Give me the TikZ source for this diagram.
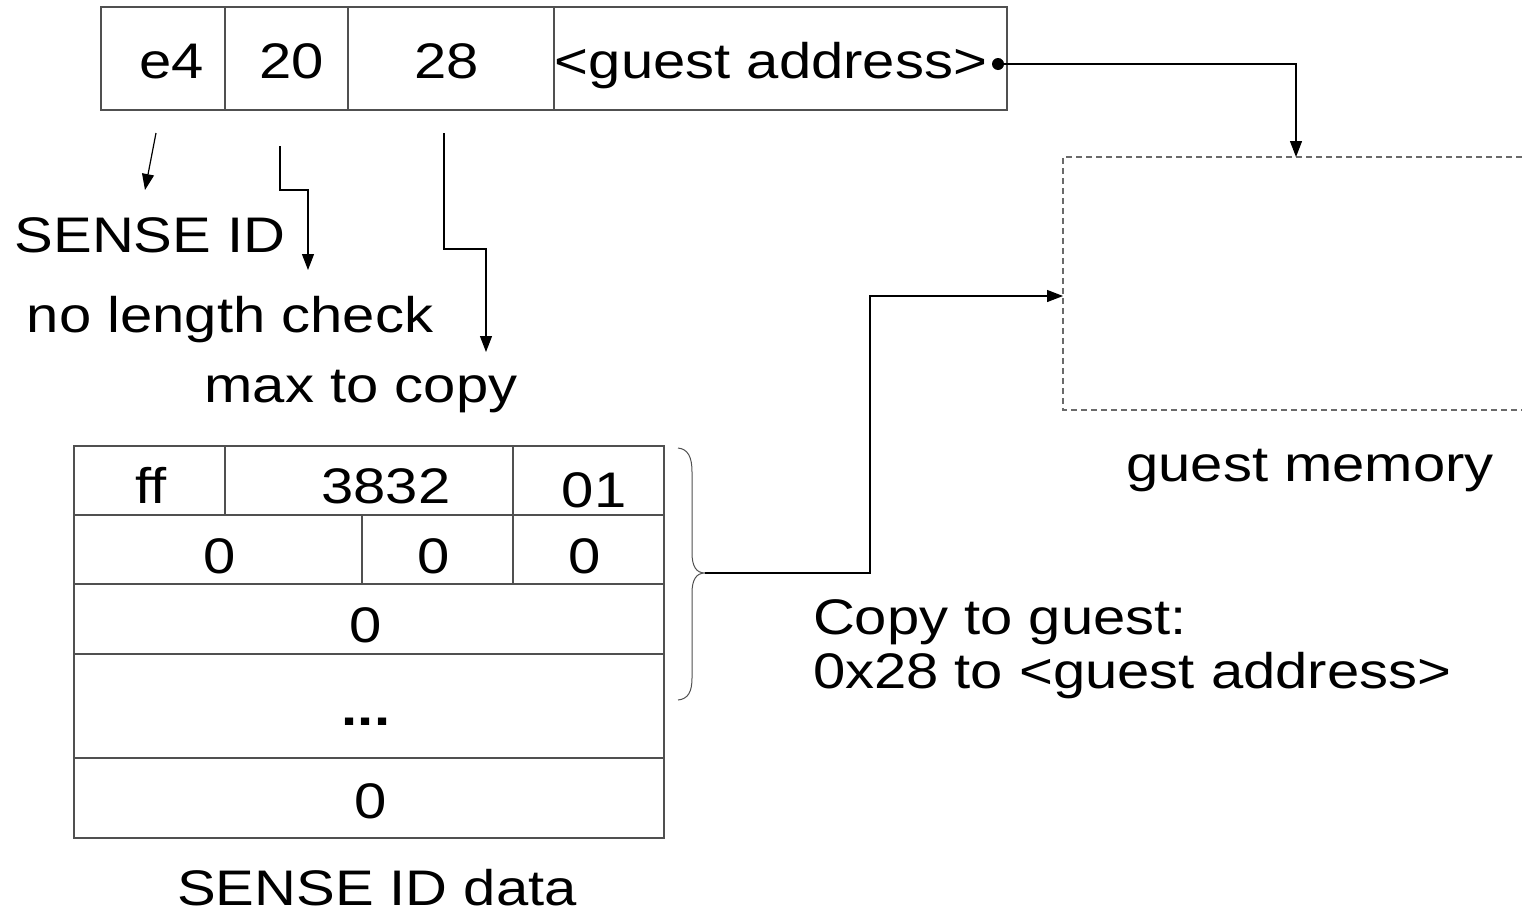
\documentclass[tikz,border=0pt]{standalone}
\usepackage{fontspec}
\setmainfont{Liberation Sans}[FakeStretch=1.16]
\usetikzlibrary{arrows.meta}
\definecolor{boxgray}{HTML}{505050}
\definecolor{dashgray}{HTML}{6a6a6a}
\tikzset{
  cell/.style={draw=boxgray, line width=1.3pt, inner sep=0pt, outer sep=0pt},
  txt/.style={anchor=base, inner sep=0pt, outer sep=0pt},
  conn/.style={draw=black, line width=1.2pt, -{Triangle[length=16pt,width=12pt]}},
  memline/.style={draw=dashgray, line width=1.2pt, dash pattern=on 6pt off 4pt},
  bracestyle/.style={draw=boxgray, line width=1pt},
}
\begin{document}
\begin{tikzpicture}[x=1pt, y=-1pt, font=\fontsize{50pt}{60pt}\selectfont]
\useasboundingbox (0,0) rectangle (1522,911);

% command word
\node[cell, minimum width=124pt, minimum height=103pt] (ce4)   at (163,58.5)   {};
\node[cell, minimum width=123pt, minimum height=103pt] (c20)   at (286.5,58.5) {};
\node[cell, minimum width=206pt, minimum height=103pt] (c28)   at (451,58.5)   {};
\node[cell, minimum width=453pt, minimum height=103pt] (caddr) at (780.5,58.5) {};
\node[txt] (te4)   at (172,78) {e4};
\node[txt] (t20)   at (292,78) {20};
\node[txt] (t28)   at (447,78) {28};
\node[txt] (taddr) at (771,78) {<guest address>};
\node[circle, fill=black, inner sep=0pt, minimum size=12pt] (dot) at (998,64) {};

% field meanings
\node[txt] (lsense) at (150,252) {SENSE ID};
\node[txt] (lnolen) at (230,332) {no length check};
\node[txt] (lmax)   at (361,402) {max to copy};

\coordinate (e4a) at (156,133);
\coordinate (e4b) at (145,190);
\coordinate (l20a) at (280,146);
\coordinate (l20b) at (308,270);
\coordinate (l28a) at (444,133);
\coordinate (l28b) at (486,352);
\draw[conn] (e4a) -- (e4b);
\draw[conn] (l20a) |- (298,190) -| (l20b);
\draw[conn] (l28a) |- (465,249) -| (l28b);

% guest memory
\coordinate (memTop)  at (1296,157);
\coordinate (memLeft) at (1063,296);
\draw[memline] (1522,157) -- (1063,157) -- (1063,410) -- (1522,410);
\node[txt] (lmem) at (1310,481) {guest memory};
\draw[conn] (dot.center) -| (memTop);

% SENSE ID data block
\node[cell, minimum width=151pt, minimum height=69pt]  (cff)   at (149.5,480.5) {};
\node[cell, minimum width=288pt, minimum height=69pt]  (c3832) at (369,480.5)   {};
\node[cell, minimum width=151pt, minimum height=69pt]  (c01)   at (588.5,480.5) {};
\node[cell, minimum width=288pt, minimum height=69pt]  (cza)   at (218,549.5)   {};
\node[cell, minimum width=151pt, minimum height=69pt]  (czb)   at (437.5,549.5) {};
\node[cell, minimum width=151pt, minimum height=69pt]  (czc)   at (588.5,549.5) {};
\node[cell, minimum width=590pt, minimum height=70pt]  (crow3) at (369,619)     {};
\node[cell, minimum width=590pt, minimum height=104pt] (crow4) at (369,706)     {};
\node[cell, minimum width=590pt, minimum height=80pt]  (crow5) at (369,798)     {};
\node[txt] (tff)   at (151,503) {ff};
\node[txt] (t3832) at (386,503) {3832};
\node[txt] (t01)   at (594,507) {01};
\node[txt] (tza)   at (220,573) {0};
\node[txt] (tzb)   at (434,573) {0};
\node[txt] (tzc)   at (585,573) {0};
\node[txt] (trow3) at (366,642) {0};
\node[txt] (trow4) at (366,725) {\textbf{...}};
\node[txt] (trow5) at (371,818) {0};
\node[txt] (ldata) at (377,905) {SENSE ID data};

% brace over the copied part
\draw[bracestyle] (678,448) .. controls (688,449) and (692,457) .. (692,472)
  -- (692,553) .. controls (692,566) and (696,573) .. (705,573)
  .. controls (696,573) and (692,580) .. (692,593)
  -- (692,678) .. controls (692,692) and (688,699) .. (678,700);
\coordinate (btip) at (705,573);
\draw[conn] (btip) -- (870,573) |- (memLeft);

\node[txt, anchor=base west] (lcopy1) at (813,634) {Copy to guest:};
\node[txt, anchor=base west] (lcopy2) at (813,688) {0x28 to <guest address>};
\end{tikzpicture}
\end{document}
